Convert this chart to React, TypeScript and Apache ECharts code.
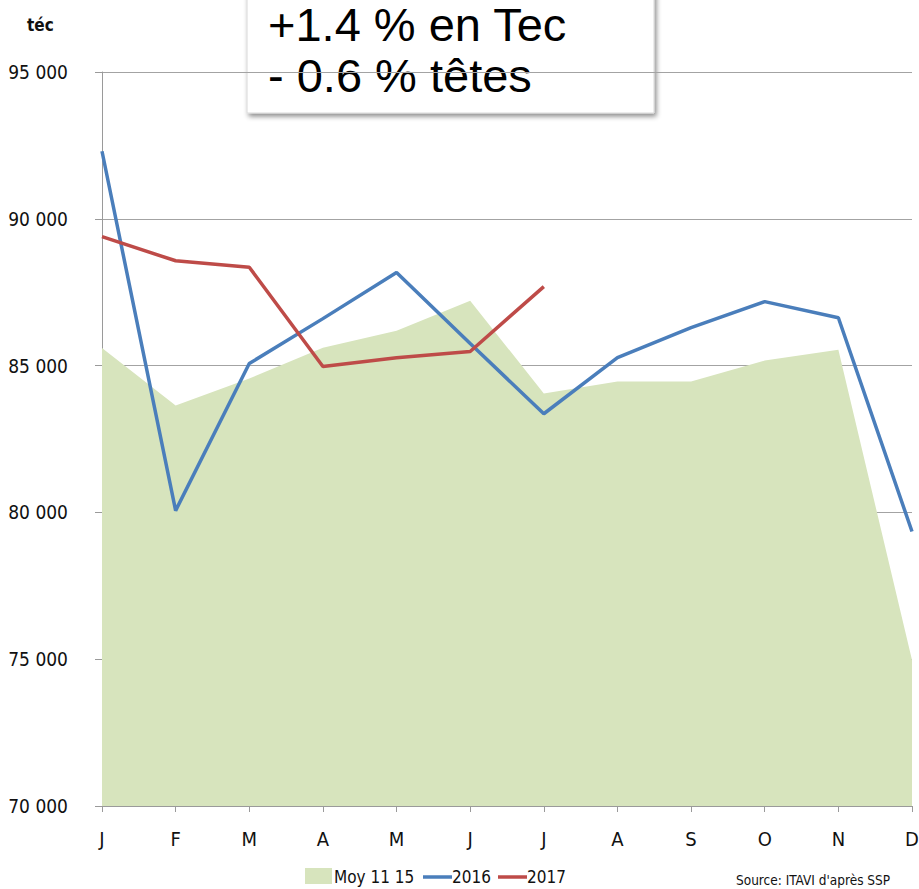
import React, { useEffect, useRef } from "react";
import * as echarts from "echarts";

const months = ["J", "F", "M", "A", "M", "J", "J", "A", "S", "O", "N", "D"];
const moy1115 = [85600, 83640, 84560, 85610, 86190, 87210, 84050, 84460, 84460, 85170, 85540, 74970];
const y2016 = [92300, 80060, 85070, 86600, 88170, 85750, 83360, 85270, 86290, 87180, 86630, 79350];
const y2017 = [89390, 88570, 88350, 84970, 85270, 85480, 87690];
const yTicks = { min: 70000, max: 95000, interval: 5000 };
const boxLines = ["+1.4 % en Tec", "- 0.6 % têtes"];
const legendNames = ["Moy 11 15", "2016", "2017"];
const unitLabel = "téc";
const sourceText = "Source: ITAVI d'après SSP";

const GREEN = "#D7E4BD";
const BLUE = "#4A7EBB";
const RED = "#BE4B48";
const FONT = "'DejaVu Sans Condensed', 'DejaVu Sans', sans-serif";

export default function App() {
  const ref = useRef<HTMLDivElement>(null);
  useEffect(() => {
    const chart = echarts.init(ref.current!, null, { renderer: "svg" });
    chart.setOption({
      animation: false,
      backgroundColor: "#fff",
      grid: { left: 102, right: 7, top: 72, bottom: 83, containLabel: false, outerBoundsMode: "none" },
      xAxis: {
        type: "category",
        data: months,
        boundaryGap: false,
        axisLine: { lineStyle: { color: "#9a9a9a", width: 1 } },
        axisTick: { show: true, length: 6, lineStyle: { color: "#9a9a9a" } },
        axisLabel: { color: "#111", fontFamily: FONT, fontSize: 20, margin: 23, interval: 0 },
        splitLine: { show: false },
      },
      yAxis: {
        type: "value",
        min: yTicks.min,
        max: yTicks.max,
        interval: yTicks.interval,
        axisLine: { show: true, lineStyle: { color: "#9a9a9a", width: 1 } },
        axisTick: { show: true, length: 7, lineStyle: { color: "#9a9a9a" } },
        axisLabel: {
          color: "#111",
          fontFamily: FONT,
          fontSize: 19,
          margin: 34,
          formatter: (v: number) => `${Math.round(v / 1000)} 000`,
        },
        splitLine: { show: true, lineStyle: { color: "#a3a3a3", width: 1 } },
      },
      series: [
        {
          name: legendNames[0],
          type: "line",
          data: moy1115,
          symbol: "none",
          lineStyle: { width: 0 },
          areaStyle: { color: GREEN, opacity: 1 },
          itemStyle: { color: GREEN },
          z: 1,
        },
        {
          name: legendNames[1],
          type: "line",
          data: y2016,
          symbol: "none",
          lineStyle: { color: BLUE, width: 3.5 },
          itemStyle: { color: BLUE },
          z: 3,
        },
        {
          name: legendNames[2],
          type: "line",
          data: y2017,
          symbol: "none",
          lineStyle: { color: RED, width: 3.5 },
          itemStyle: { color: RED },
          z: 4,
        },
      ],
      graphic: [
        {
          type: "text",
          x: 27,
          y: 25,
          style: { text: unitLabel, font: `bold 17px ${FONT}`, fill: "#111", verticalAlign: "middle" },
        },
        {
          type: "group",
          x: 247,
          y: -10,
          children: [
            {
              type: "rect",
              shape: { x: 0, y: 0, width: 407, height: 123 },
              style: {
                fill: "#fff",
                stroke: "#d8d8d8",
                lineWidth: 1,
                shadowBlur: 5,
                shadowOffsetX: 2,
                shadowOffsetY: 3,
                shadowColor: "rgba(0,0,0,0.45)",
              },
            },
            {
              type: "text",
              x: 21,
              y: 34,
              style: {
                text: boxLines[0],
                font: "47px 'Liberation Sans', Arial, sans-serif",
                fill: "#000",
                verticalAlign: "middle",
              },
            },
            {
              type: "text",
              x: 21,
              y: 85,
              style: {
                text: boxLines[1],
                font: "47px 'Liberation Sans', Arial, sans-serif",
                fill: "#000",
                verticalAlign: "middle",
              },
            },
          ],
        },
        { type: "rect", shape: { x: 305, y: 868, width: 27, height: 16 }, style: { fill: GREEN } },
        {
          type: "text",
          x: 334,
          y: 877,
          style: { text: legendNames[0], font: `17px ${FONT}`, fill: "#111", verticalAlign: "middle" },
        },
        { type: "line", shape: { x1: 423, y1: 877, x2: 452, y2: 877 }, style: { stroke: BLUE, lineWidth: 3.5 } },
        {
          type: "text",
          x: 452,
          y: 877,
          style: { text: legendNames[1], font: `17px ${FONT}`, fill: "#111", verticalAlign: "middle" },
        },
        { type: "line", shape: { x1: 498, y1: 877, x2: 527, y2: 877 }, style: { stroke: RED, lineWidth: 3.5 } },
        {
          type: "text",
          x: 527,
          y: 877,
          style: { text: legendNames[2], font: `17px ${FONT}`, fill: "#111", verticalAlign: "middle" },
        },
        {
          type: "text",
          x: 736,
          y: 880,
          style: { text: sourceText, font: `13.5px ${FONT}`, fill: "#111", verticalAlign: "middle" },
        },
      ],
    });
    return () => chart.dispose();
  }, []);
  return <div ref={ref} style={{ width: 919, height: 889, position: "absolute", left: 0, top: 0 }} />;
}
